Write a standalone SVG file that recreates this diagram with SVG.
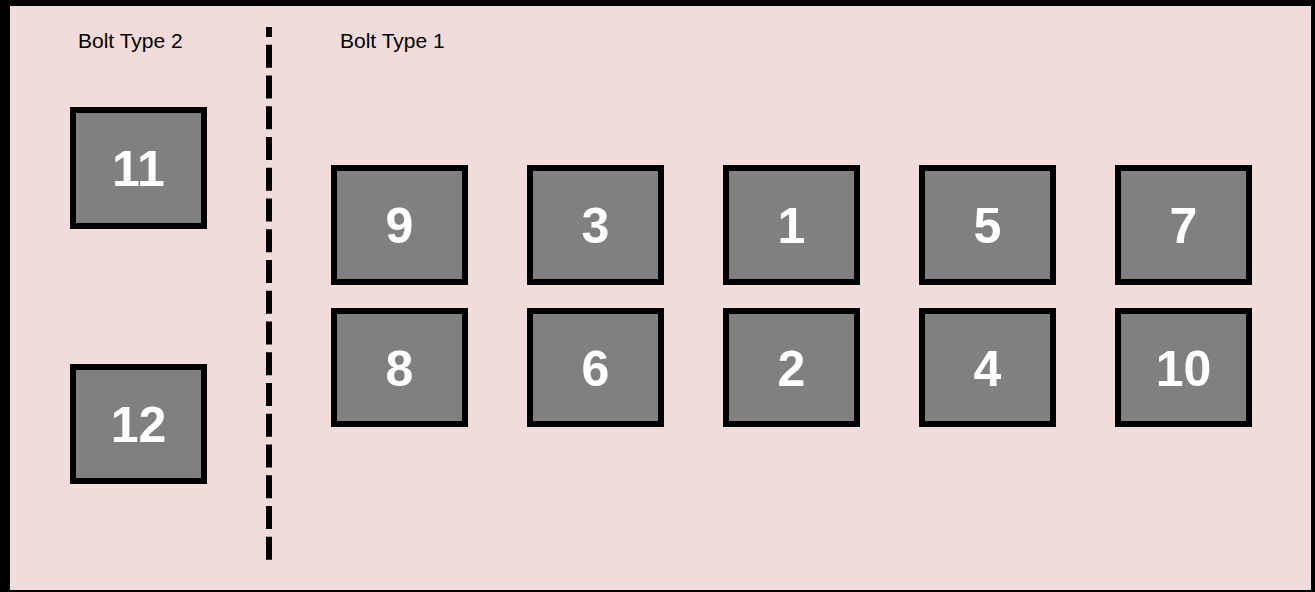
<svg xmlns="http://www.w3.org/2000/svg" width="1315" height="592" viewBox="0 0 1315 592">
<style>
.box{fill:#808080;stroke:#000;stroke-width:6}
.num{font-family:"Liberation Sans",Arial,sans-serif;font-weight:bold;font-size:50px;fill:#fff;text-anchor:middle}
.lbl{font-family:"Liberation Sans",Arial,sans-serif;font-size:21px;fill:#000}
</style>
<rect x="0" y="0" width="1315" height="592" fill="#f2dcdb"/>
<g id="frame" fill="#000">
<rect x="0" y="0" width="10" height="592"/>
<rect x="0" y="0" width="1315" height="6"/>
<rect x="1311" y="0" width="4" height="592"/>
<rect x="0" y="590" width="1315" height="2"/>
</g>
<g id="connectors">
<line x1="269" y1="27" x2="269" y2="561" stroke="#000" stroke-width="6" stroke-dasharray="23 7.75" stroke-dashoffset="13"/>
</g>
<g id="labels">
<text class="lbl" x="78" y="48">Bolt Type 2</text>
<text class="lbl" x="340" y="48">Bolt Type 1</text>
</g>
<g id="n11"><rect class="box" x="73" y="110" width="131" height="116"/><text class="num" x="138.5" y="186">11</text></g>
<g id="n12"><rect class="box" x="73" y="367" width="131" height="114"/><text class="num" x="138.5" y="442">12</text></g>
<g id="n9"><rect class="box" x="334" y="168" width="131" height="114"/><text class="num" x="399.5" y="243">9</text></g>
<g id="n3"><rect class="box" x="530" y="168" width="131" height="114"/><text class="num" x="595.5" y="243">3</text></g>
<g id="n1"><rect class="box" x="726" y="168" width="131" height="114"/><text class="num" x="791.5" y="243">1</text></g>
<g id="n5"><rect class="box" x="922" y="168" width="131" height="114"/><text class="num" x="987.5" y="243">5</text></g>
<g id="n7"><rect class="box" x="1118" y="168" width="131" height="114"/><text class="num" x="1183.5" y="243">7</text></g>
<g id="n8"><rect class="box" x="334" y="311" width="131" height="113"/><text class="num" x="399.5" y="386">8</text></g>
<g id="n6"><rect class="box" x="530" y="311" width="131" height="113"/><text class="num" x="595.5" y="386">6</text></g>
<g id="n2"><rect class="box" x="726" y="311" width="131" height="113"/><text class="num" x="791.5" y="386">2</text></g>
<g id="n4"><rect class="box" x="922" y="311" width="131" height="113"/><text class="num" x="987.5" y="386">4</text></g>
<g id="n10"><rect class="box" x="1118" y="311" width="131" height="113"/><text class="num" x="1183.5" y="386">10</text></g>
</svg>
